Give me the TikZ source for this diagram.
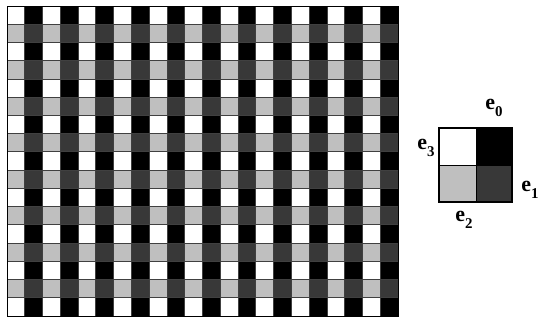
\documentclass[tikz,border=0pt]{standalone}
\usepackage{fontspec}
\setmainfont{Liberation Serif}
\begin{document}
\begin{tikzpicture}[x=1bp,y=-1bp,
  cellline/.style={draw=black!75,line width=0.8bp},
  wcell/.style={cellline,fill=white},
  bcell/.style={cellline,fill=black},
  lcell/.style={cellline,fill=black!25},
  dcell/.style={cellline,fill=black!78},
  elabel/.style={font=\fontsize{22}{22}\selectfont\bfseries,inner sep=0pt}]
\useasboundingbox (0,0) rectangle (539,321);
\def\cw{17.7727}
\def\rh{18.2353}
% grid
\foreach \r in {0,...,16}{
  \foreach \c in {0,...,21}{
    \pgfmathsetmacro{\xa}{7+\c*\cw}
    \pgfmathsetmacro{\ya}{6+\r*\rh}
    \pgfmathtruncatemacro{\re}{mod(\r,2)}
    \pgfmathtruncatemacro{\ce}{mod(\c,2)}
    \ifnum\re=0
      \ifnum\ce=0 \def\st{wcell}\else\def\st{bcell}\fi
    \else
      \ifnum\ce=0 \def\st{lcell}\else\def\st{dcell}\fi
    \fi
    \path[\st] (\xa,\ya) rectangle ++(\cw,\rh);
  }
}
\draw[line width=1bp] (7,6) rectangle (398,316);
% legend
\path[wcell,draw=black] (439,128) rectangle (476,165);
\path[bcell,draw=black] (476,128) rectangle (512,165);
\path[lcell,draw=black] (439,165) rectangle (476,202);
\path[dcell,draw=black] (476,165) rectangle (512,202);
\draw[line width=1.2bp] (439,128) rectangle (512,202);
\node[elabel] (e0) at (494,108) {e\raisebox{-0.3em}{\fontsize{15}{15}\selectfont 0}};
\node[elabel] (e1) at (530,190) {e\raisebox{-0.3em}{\fontsize{15}{15}\selectfont 1}};
\node[elabel] (e2) at (464,220) {e\raisebox{-0.3em}{\fontsize{15}{15}\selectfont 2}};
\node[elabel] (e3) at (426,148) {e\raisebox{-0.3em}{\fontsize{15}{15}\selectfont 3}};
\end{tikzpicture}
\end{document}
